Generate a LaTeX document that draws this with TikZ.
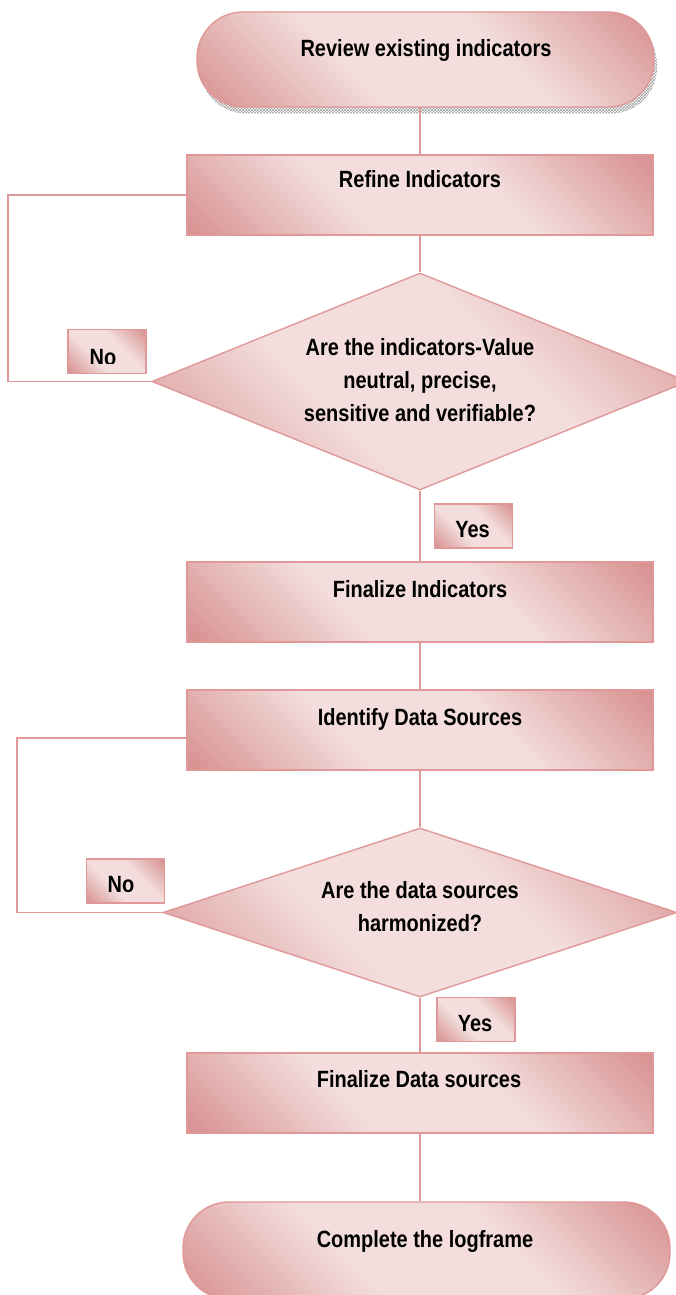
\documentclass[tikz,border=0pt]{standalone}
\usepackage{fontspec}
\setmainfont[FakeStretch=0.85]{Liberation Sans}
\usetikzlibrary{shapes.geometric,patterns}

\definecolor{pkdark}{RGB}{216,148,147}
\definecolor{pklight}{RGB}{243,222,221}
\definecolor{pkline}{RGB}{224,152,152}

% dark-light-dark band across a square; the shape's corners fall at 33.3bp and 66.7bp
\pgfdeclarehorizontalshading{pinkglow}{100bp}{%
  color(0bp)=(pkdark); color(34bp)=(pkdark); color(45bp)=(pklight);
  color(55bp)=(pklight); color(66bp)=(pkdark); color(100bp)=(pkdark)}

\tikzset{
  % #1 = half side of the shaded square (1.5 x the shape's half extent along 45 degrees)
  glow/.style={path picture={
      \shade[shading=pinkglow, shading angle=45]
        ([shift={(-#1,-#1)}]path picture bounding box.center) rectangle
        ([shift={(#1,#1)}]path picture bounding box.center);}},
  flowshade/.style={draw=pkline, fill=pklight, line width=1.4pt, inner sep=0pt},
  procbox/.style={flowshade, glow=290, rectangle, minimum width=466pt, minimum height=80pt},
  termbox/.style={flowshade, rectangle, rounded corners=46pt},
  decbox/.style={flowshade, diamond},
  tagbox/.style={flowshade, glow=65, rectangle, minimum width=78pt, minimum height=44pt},
  lbl/.style={font=\fontsize{23.5pt}{33pt}\selectfont\bfseries, inner sep=0pt, align=center},
  conn/.style={draw=pkline, line width=1.4pt},
}

\begin{document}
\begin{tikzpicture}[x=1pt,y=-1pt]
\useasboundingbox (0,0) rectangle (676,1295);

% start terminator with its hatched shadow
\node[rectangle, rounded corners=46pt, minimum width=457pt, minimum height=95pt, inner sep=0pt,
      pattern=crosshatch, pattern color=gray!75] (topshadow) at (428.5,66) {};
\node[termbox, glow=293, minimum width=457pt, minimum height=95pt] (start) at (425.5,59.5) {};

% process boxes
\node[procbox] (refine)   at (420,195)  {};
\node[procbox] (finind)   at (420,602)  {};
\node[procbox] (identify) at (420,730)  {};
\node[procbox] (findata)  at (420,1093) {};

% decisions
\node[decbox, glow=399, minimum width=536pt, minimum height=217pt] (dec1) at (420,381.5) {};
\node[decbox, glow=362, minimum width=514pt, minimum height=169pt] (dec2) at (420,912.5) {};

% end terminator
\node[termbox, glow=309, minimum width=487pt, minimum height=97pt] (finish) at (426.5,1250.5) {};

% answer tags
\node[tagbox] (no1)  at (107,351.5)   {};
\node[tagbox] (yes1) at (473.5,526)   {};
\node[tagbox] (no2)  at (125.5,881)   {};
\node[tagbox] (yes2) at (476,1019.5)  {};

% loop-back corners
\coordinate (loopA) at (8,0);
\coordinate (loopB) at (17,0);

% connectors
\draw[conn] (refine.north) -- (refine.north |- start.south);
\draw[conn] (refine.south) -- (dec1.north);
\draw[conn] (dec1.south) -- (finind.north);
\draw[conn] (finind.south) -- (identify.north);
\draw[conn] (identify.south) -- (dec2.north);
\draw[conn] (dec2.south) -- (findata.north);
\draw[conn] (findata.south) -- (findata.south |- finish.north);
\draw[conn] (refine.west) -- (refine.west -| loopA) |- (dec1.west);
\draw[conn] ([yshift=-8pt]identify.west) -- ([yshift=-8pt]identify.west -| loopB) |- (dec2.west);

% texts
\node[lbl, anchor=base] (tstart) at (426,57) {Review existing indicators};
\node[lbl, anchor=base] (trefine) at (420,187) {Refine Indicators};
\node[lbl] (tdec1) at (420,380.5) {Are the indicators-Value\\neutral, precise,\\sensitive and verifiable?};
\node[lbl, anchor=base] (tyes1) at (472.5,537) {Yes};
\node[lbl, anchor=base] (tfinind) at (420,597) {Finalize Indicators};
\node[lbl, anchor=base] (tidentify) at (420,725) {Identify Data Sources};
\node[lbl] (tdec2) at (420,907) {Are the data sources\\harmonized?};
\node[lbl, anchor=base] (tyes2) at (475,1031) {Yes};
\node[lbl, anchor=base] (tfindata) at (419,1087) {Finalize Data sources};
\node[lbl, anchor=base] (tfinish) at (425,1247) {Complete the logframe};

% the "No" labels sit in text areas that crop their lower edge
\begin{scope}
  \clip (no1.north west) rectangle (no1.east |- 0,363);
  \node[lbl, anchor=base] (tno1) at (103,365) {No};
\end{scope}
\begin{scope}
  \clip (no2.north west) rectangle (no2.east |- 0,891);
  \node[lbl, anchor=base] (tno2) at (121,892.5) {No};
\end{scope}
\end{tikzpicture}
\end{document}
